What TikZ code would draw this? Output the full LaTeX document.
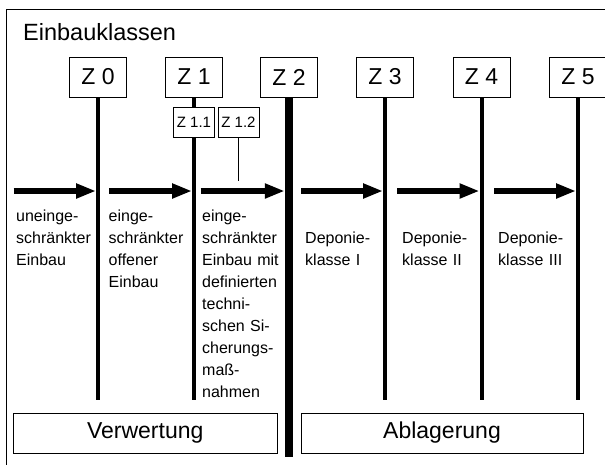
\documentclass[tikz,border=0pt]{standalone}
\usepackage{fontspec}
\setmainfont{Liberation Sans}
\usetikzlibrary{arrows.meta}
\begin{document}
\begin{tikzpicture}[x=1pt,y=-1pt,
 zbox/.style={draw,line width=0.9pt,minimum width=57pt,minimum height=40pt,inner sep=0pt,font=\fontsize{23}{27}\selectfont},
 subbox/.style={draw,line width=0.9pt,minimum width=41pt,minimum height=30pt,inner sep=0pt,font=\fontsize{15}{18}\selectfont},
 pole/.style={line width=4pt},
 flow/.style={line width=6pt,-{Triangle[length=20pt,width=14pt]}},
 lbl/.style={anchor=base west,align=left,text width=88pt,inner sep=0pt,font=\fontsize{16}{22}\selectfont},
 groupbox/.style={draw,line width=0.9pt,inner sep=0pt,minimum height=40pt,font=\fontsize{23}{27}\selectfont}]
\useasboundingbox (0,0) rectangle (605,464);
\clip (0,0) rectangle (605,464);
% frame
\draw[line width=0.9pt] (6,470) -- (6,9.5) -- (615,9.5);
\node[anchor=base west,inner sep=0pt,font=\fontsize{23.5}{27}\selectfont] (title) at (23,40.5) {Einbauklassen};
% class boxes
\node[zbox] (z0) at (98,77) {Z 0};
\node[zbox] (z1) at (194,77) {Z 1};
\node[zbox] (z2) at (289,77) {Z 2};
\node[zbox] (z3) at (385,77) {Z 3};
\node[zbox] (z4) at (481.5,77) {Z 4};
\node[zbox] (z5) at (578,77) {Z 5};
\node[subbox] (z11) at (194,122) {Z 1.1};
\node[subbox] (z12) at (238.5,122) {Z 1.2};
% pole ends
\coordinate (e0) at (98,400);
\coordinate (e1) at (194,400);
\coordinate (e2) at (289,457);
\coordinate (e3) at (385,400);
\coordinate (e4) at (481.5,400);
\coordinate (e5) at (578,400);
\coordinate (e12) at (238.5,181);
\draw[pole] (z0.south) -- (e0);
\draw[pole] (z1.south) -- (z11.north);
\draw[pole] (z11.south) -- (e1);
\draw[line width=8.5pt] (z2.south) -- (e2);
\draw[pole] (z3.south) -- (e3);
\draw[pole] (z4.south) -- (e4);
\draw[pole] (z5.south) -- (e5);
\draw[line width=1.3pt] (z12.south) -- (e12);
% flow arrows
\coordinate (s0) at (13.5,191); \coordinate (t0) at (96,191);
\coordinate (s1) at (109,191); \coordinate (t1) at (192,191);
\coordinate (s2) at (200.5,191); \coordinate (t2) at (284.75,191);
\coordinate (s3) at (301,191); \coordinate (t3) at (383,191);
\coordinate (s4) at (397,191); \coordinate (t4) at (479.5,191);
\coordinate (s5) at (494,191); \coordinate (t5) at (576,191);
\draw[flow] (s0) -- (t0);
\draw[flow] (s1) -- (t1);
\draw[flow] (s2) -- (t2);
\draw[flow] (s3) -- (t3);
\draw[flow] (s4) -- (t4);
\draw[flow] (s5) -- (t5);
% labels
\node[lbl] (l0) at (16,221) {uneinge-\\schränkter\\Einbau};
\node[lbl] (l1) at (108.5,221) {einge-\\schränkter\\offener\\Einbau};
\node[lbl] (l2) at (202,221) {einge-\\schränkter\\Einbau mit\\definierten\\techni-\\schen Si-\\cherungs-\\maß-\\nahmen};
\node[lbl] (l3) at (305,243) {Deponie-\\klasse I};
\node[lbl] (l4) at (402,243) {Deponie-\\klasse II};
\node[lbl] (l5) at (498,243) {Deponie-\\klasse III};
% groups
\node[groupbox,minimum width=263.5pt] (verw) at (145.25,433) {Verwertung};
\node[groupbox,minimum width=282pt] (abl) at (442,433) {Ablagerung};
\end{tikzpicture}
\end{document}
